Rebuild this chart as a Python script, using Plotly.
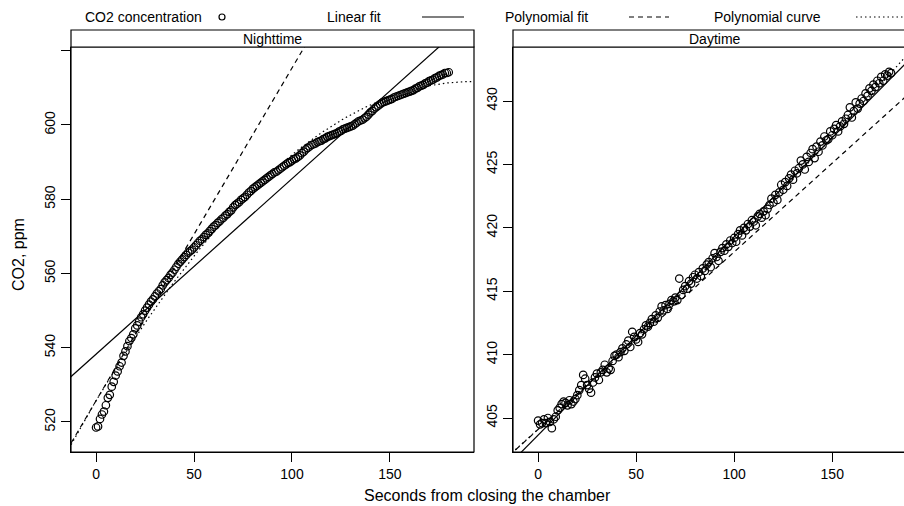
import numpy as np
import plotly.graph_objects as go

# ---------------- data ----------------
night_time = list(range(0, 181))
night_co2 = [
    518.5, 518.8, 520.8, 522.0, 522.8, 524.5, 526.5, 527.3, 529.5, 530.8,
    532.5, 533.6, 535.0, 536.0, 537.8, 539.0, 540.4, 541.8, 542.6, 543.6,
    545.2, 546.0, 547.0, 548.2, 549.0, 550.0, 550.8, 551.6, 552.4, 553.0,
    553.8, 554.6, 555.2, 555.8, 556.8, 557.6, 558.2, 558.8, 559.6, 560.2,
    561.0, 561.8, 562.6, 563.2, 563.8, 564.4, 565.0, 565.6, 566.0, 566.4,
    567.0, 567.6, 568.2, 568.8, 569.2, 569.8, 570.4, 570.8, 571.4, 572.0,
    572.6, 573.0, 573.6, 574.0, 574.6, 575.0, 575.6, 576.0, 576.6, 577.0,
    577.8, 578.4, 578.8, 579.2, 579.8, 580.2, 580.6, 581.2, 581.8, 582.2,
    582.8, 583.2, 583.6, 584.0, 584.4, 584.8, 585.2, 585.6, 586.0, 586.4,
    586.8, 587.2, 587.4, 587.8, 588.2, 588.6, 589.0, 589.4, 589.8, 590.0,
    590.4, 590.8, 591.0, 591.4, 591.8, 592.4, 592.8, 593.4, 593.8, 594.2,
    594.6, 594.8, 595.0, 595.4, 595.6, 595.8, 596.2, 596.4, 596.8, 597.0,
    597.2, 597.4, 597.6, 597.8, 598.2, 598.4, 598.8, 599.0, 599.2, 599.4,
    599.6, 599.8, 600.2, 600.6, 601.0, 601.2, 601.4, 601.8, 602.2, 602.8,
    603.4, 603.8, 604.4, 604.8, 605.2, 605.6, 606.0, 606.2, 606.4, 606.6,
    606.8, 607.0, 607.4, 607.6, 607.8, 608.0, 608.2, 608.4, 608.6, 608.8,
    609.0, 609.2, 609.4, 609.8, 610.0, 610.4, 610.6, 610.8, 611.2, 611.4,
    611.8, 612.0, 612.2, 612.6, 612.8, 613.2, 613.4, 613.6, 614.0, 614.0,
    614.2,
]

day_time = list(range(0, 181))
day_co2 = [
    404.8, 404.5, 404.6, 404.9, 404.6, 405.0, 404.7, 404.2, 404.9, 405.1,
    405.6, 405.8, 406.1, 406.3, 406.2, 406.0, 406.4, 406.1, 406.3, 406.5,
    406.8, 407.2, 407.6, 408.4, 408.1, 407.6, 407.3, 407.0, 407.8, 408.2,
    408.5, 408.0, 408.6, 408.8, 409.2, 408.6, 408.9, 408.8, 409.5, 409.9,
    410.0, 409.8, 410.2, 410.5, 410.3, 410.8, 411.1, 410.6, 411.8, 411.4,
    411.2, 411.0, 411.7, 411.6, 412.0, 412.3, 412.2, 412.5, 412.8, 412.6,
    413.1, 412.9, 413.4, 413.8, 413.5, 413.9, 413.6, 414.0, 414.3, 414.2,
    414.5, 414.3, 416.0, 414.7, 415.1, 415.4, 415.2, 415.8, 415.6, 416.1,
    416.3, 416.0, 416.5, 416.2, 416.8, 416.6, 417.1, 417.3, 416.9, 417.6,
    418.0, 417.7, 417.4, 418.1, 418.4, 418.2, 418.7, 418.5, 419.0, 418.8,
    419.2, 418.9, 419.5, 419.8, 419.4, 420.0, 419.8, 420.3, 420.1, 420.6,
    420.5, 420.2, 420.9, 421.1, 420.8, 421.3, 421.0, 421.5, 421.8, 422.3,
    422.0, 422.6, 422.2, 422.8, 423.4, 423.0, 423.6, 423.3, 423.9, 424.2,
    423.8, 424.5, 424.3, 424.7, 425.3, 425.0, 424.6, 425.6, 425.2, 425.9,
    426.2, 425.5, 426.4, 426.0, 426.8, 426.5, 427.2, 426.9, 427.0, 427.6,
    427.3, 427.8, 428.1, 427.6, 428.0, 428.4, 428.2, 428.6, 428.9, 429.5,
    428.7, 429.2, 429.9, 429.4, 429.8, 430.2, 430.0, 430.6, 430.4, 431.0,
    430.8, 431.3, 431.1, 431.6, 431.4, 431.9, 431.6, 432.1, 432.0, 432.3,
    432.2,
]

# fitted coefficients (intercept, slope[, quadratic])
night_linear = [538.25, 0.4728]
night_poly = [525.73, 0.896, -0.002335]
day_linear = [403.65, 0.1564]
day_poly = [404.1, 0.140, 0.000090]

panel_names = ["Nighttime", "Daytime"]
night_yticks = [520, 540, 560, 580, 600, 620]
night_yticklabels = ["520", "540", "560", "580", "600", ""]
day_yticks = [405, 410, 415, 420, 425, 430]
x_ticks = [0, 50, 100, 150]

legend_labels = ["CO2 concentration", "Linear fit", "Polynomial fit", "Polynomial curve"]

# ---------------- layout geometry ----------------
W, H = 904, 506
FONT = "Liberation Sans, Arial, sans-serif"
LW = 1.2
DASH = "5px,4px"
DOT = "1.5px,3px"


def px(x):
    return x / W


def py(y):
    return 1 - y / H


left_dom = [px(71), px(474)]
right_dom = [px(513), 1.0]
y_dom = [py(452), py(47)]

fig = go.Figure()

t_grid = np.linspace(-15, 195, 211)


def add_panel(times, vals, lin, poly, xa, ya):
    fig.add_trace(go.Scatter(
        x=times, y=vals, mode="markers", xaxis=xa, yaxis=ya,
        marker=dict(symbol="circle-open", size=7.5, color="black", line=dict(width=1.2, color="black")),
        showlegend=False, hoverinfo="skip"))
    fig.add_trace(go.Scatter(
        x=[t_grid[0], t_grid[-1]], y=[lin[0] + lin[1] * t_grid[0], lin[0] + lin[1] * t_grid[-1]],
        mode="lines", xaxis=xa, yaxis=ya, line=dict(color="black", width=LW),
        showlegend=False, hoverinfo="skip"))
    fig.add_trace(go.Scatter(
        x=[t_grid[0], t_grid[-1]], y=[poly[0] + poly[1] * t_grid[0], poly[0] + poly[1] * t_grid[-1]],
        mode="lines", xaxis=xa, yaxis=ya, line=dict(color="black", width=LW, dash=DASH),
        showlegend=False, hoverinfo="skip"))
    fig.add_trace(go.Scatter(
        x=t_grid, y=poly[0] + poly[1] * t_grid + poly[2] * t_grid ** 2,
        mode="lines", xaxis=xa, yaxis=ya, line=dict(color="black", width=LW, dash=DOT),
        showlegend=False, hoverinfo="skip"))


add_panel(night_time, night_co2, night_linear, night_poly, "x", "y")
add_panel(day_time, day_co2, day_linear, day_poly, "x2", "y2")

axis_common = dict(showgrid=False, zeroline=False, showline=True, linecolor="black", linewidth=1.2,
                   ticks="outside", ticklen=9, tickwidth=1.2, tickcolor="black",
                   tickfont=dict(family=FONT, size=14, color="black"))

fig.update_layout(
    width=W, height=H,
    margin=dict(l=0, r=0, t=0, b=0),
    paper_bgcolor="white", plot_bgcolor="white",
    showlegend=False,
    xaxis=dict(domain=left_dom, range=[-12.8, 192.9], tickvals=x_ticks, anchor="y", **axis_common),
    yaxis=dict(domain=y_dom, range=[511.9, 621.0], tickvals=night_yticks, ticktext=night_yticklabels,
               tickangle=-90, anchor="x", **axis_common),
    xaxis2=dict(domain=right_dom, range=[-12.8, 186.6], tickvals=x_ticks, anchor="y2", **axis_common),
    yaxis2=dict(domain=y_dom, range=[402.32, 434.26], tickvals=day_yticks, tickangle=-90,
                anchor="x2", **axis_common),
)

shapes = []
annotations = []
# panel boxes and strips
for (x0, x1), name in zip([(71, 474), (513, 930)], panel_names):
    shapes.append(dict(type="rect", xref="paper", yref="paper", x0=px(x0), x1=px(x1),
                       y0=py(452), y1=py(47), line=dict(color="black", width=1.2), layer="above"))
    shapes.append(dict(type="rect", xref="paper", yref="paper", x0=px(x0), x1=px(x1),
                       y0=py(47), y1=py(30), line=dict(color="black", width=1.2), fillcolor="white"))
    cx = (71 + 474) / 2 if name == "Nighttime" else (513 + 916) / 2
    annotations.append(dict(text=name, x=px(cx), y=py(38.5), xref="paper", yref="paper",
                            showarrow=False, xanchor="center", yanchor="middle",
                            font=dict(family=FONT, size=14, color="black")))

# legend
leg_y = py(17)
for label, cx in zip(legend_labels, [143.5, 353.5, 546.5, 767]):
    annotations.append(dict(text=label, x=px(cx), y=leg_y, xref="paper", yref="paper",
                            showarrow=False, xanchor="center", yanchor="middle",
                            font=dict(family=FONT, size=14, color="black")))
shapes.append(dict(type="circle", xref="paper", yref="paper", xsizemode="pixel", ysizemode="pixel",
                   xanchor=px(222), yanchor=leg_y, x0=-3, x1=3, y0=-3, y1=3,
                   line=dict(color="black", width=1.2)))
shapes.append(dict(type="line", xref="paper", yref="paper", x0=px(422), x1=px(464), y0=leg_y, y1=leg_y,
                   line=dict(color="black", width=LW)))
shapes.append(dict(type="line", xref="paper", yref="paper", x0=px(629), x1=px(669), y0=leg_y, y1=leg_y,
                   line=dict(color="black", width=LW, dash=DASH)))
shapes.append(dict(type="line", xref="paper", yref="paper", x0=px(856), x1=px(930), y0=leg_y, y1=leg_y,
                   line=dict(color="black", width=LW, dash=DOT)))

# axis titles
annotations.append(dict(text="Seconds from closing the chamber", x=px(487), y=py(495), xref="paper",
                        yref="paper", showarrow=False, xanchor="center", yanchor="middle",
                        font=dict(family=FONT, size=16, color="black")))
annotations.append(dict(text="CO2, ppm", x=px(18), y=py(255), xref="paper", yref="paper",
                        showarrow=False, xanchor="center", yanchor="middle", textangle=-90,
                        font=dict(family=FONT, size=16, color="black")))

fig.update_layout(shapes=shapes, annotations=annotations)
fig.write_html("out.html",
               config={"displayModeBar": False},
               post_script="document.body.style.margin='0';document.body.style.overflow='hidden';")
